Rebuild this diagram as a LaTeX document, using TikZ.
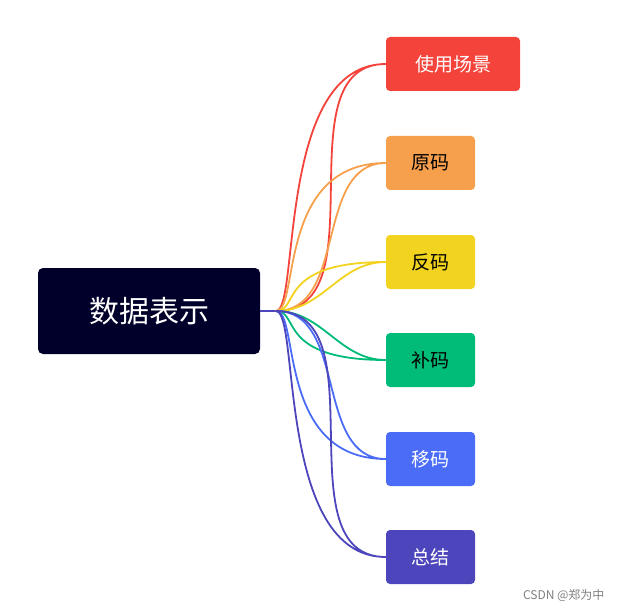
\documentclass[tikz,border=0pt]{standalone}
\usepackage{fontspec}
\setmainfont{Noto Sans CJK SC}
\begin{document}
\begin{tikzpicture}[x=1pt,y=-1pt,
  leaf/.style={rounded corners=4pt,minimum height=54pt,inner sep=0pt,font=\fontsize{19}{19}\selectfont},
  branch/.style={line width=1.8pt}]
% Colours
\definecolor{rootc}{HTML}{00002A}
\definecolor{redc}{HTML}{F4433B}
\definecolor{orangec}{HTML}{F6A04D}
\definecolor{yellowc}{HTML}{F2D31F}
\definecolor{greenc}{HTML}{00BC78}
\definecolor{bluec}{HTML}{4A6CF7}
\definecolor{purplec}{HTML}{4C45BC}
\useasboundingbox (0,0) rectangle (620,612);

\node[fill=rootc,rounded corners=5pt,minimum width=222pt,minimum height=86pt,
  text=white,font=\fontsize{30}{30}\selectfont] (root) at (149,311) {数据表示};
\coordinate (hub) at (276,311);
\draw[purplec,branch] (root.east) -- (hub);

% Leaves
\node[leaf,fill=redc,text=white,minimum width=134pt] (scene) at (453,64) {使用场景};
\node[leaf,fill=orangec,minimum width=89pt] (orig) at (430.5,163) {原码};
\node[leaf,fill=yellowc,minimum width=89pt] (inv) at (430.5,262) {反码};
\node[leaf,fill=greenc,minimum width=89pt] (comp) at (430.5,360) {补码};
\node[leaf,fill=bluec,text=white,minimum width=89pt] (bias) at (430.5,459) {移码};
\node[leaf,fill=purplec,text=white,minimum width=89pt] (summ) at (430.5,557) {总结};

% Branches
\foreach \n/\c in {scene/redc,orig/orangec,inv/yellowc,comp/greenc,bias/bluec,summ/purplec}
  \draw[\c,branch] (hub) .. controls (300,311 |- hub) and (hub |- \n.west) .. (\n.west)
    [out=0,in=180] (hub) to (\n.west);

\node[text=gray,font=\fontsize{12}{12}\selectfont,anchor=east] (mark) at (608,595) {CSDN @郑为中};
\end{tikzpicture}
\end{document}
